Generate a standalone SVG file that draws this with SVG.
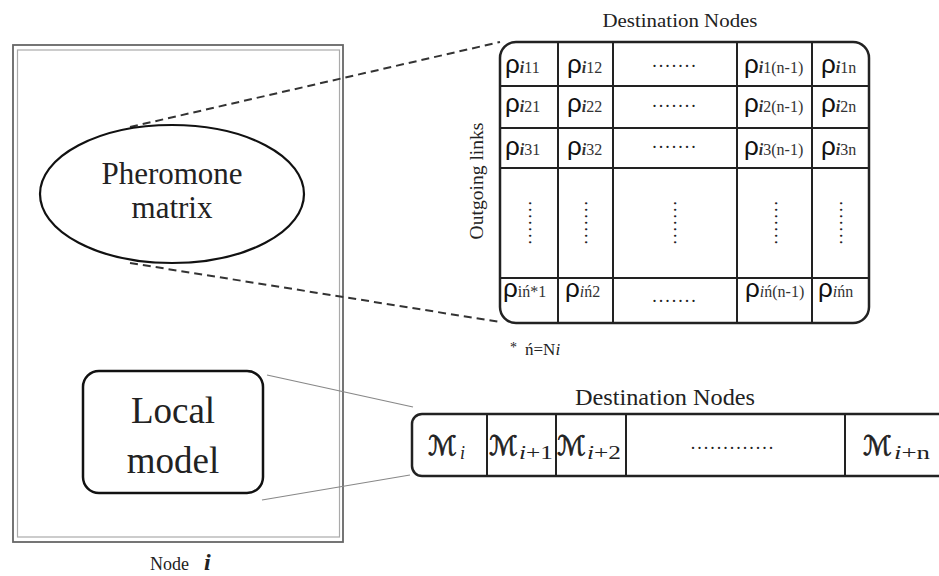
<svg xmlns="http://www.w3.org/2000/svg" width="939" height="576" viewBox="0 0 939 576">
<style>
.serif{font-family:"Liberation Serif","Times New Roman",serif;fill:#222}
.rho{font-family:"Liberation Sans",Arial,sans-serif;font-size:26px;fill:#111}
.sub{font-family:"Liberation Serif",serif;font-size:16px;fill:#333}
.si{font-style:italic;font-weight:bold}
.dots{font-family:"Liberation Serif",serif;font-size:18px;letter-spacing:2px;fill:#222}
.grid{stroke:#222;stroke-width:2;fill:none}
.cal{font-family:"DejaVu Sans",sans-serif;font-size:27px;fill:#222;stroke:#222;stroke-width:0.7}
.msub{font-family:"Liberation Serif",serif;font-size:18px;fill:#222}
</style>
<rect width="939" height="576" fill="#fff"/>

<g id="node-i">
<rect x="13" y="45" width="330" height="497" fill="none" stroke="#666" stroke-width="1.8"/>
<rect x="17.5" y="50" width="322" height="487" fill="none" stroke="#aaa" stroke-width="1.2"/>
<text class="serif" x="150" y="570" font-size="18">Node</text>
<text class="serif" x="204" y="570" font-size="24" font-style="italic" font-weight="bold">i</text>
</g>

<g id="connectors" fill="none">
<line x1="130" y1="127" x2="500" y2="42" stroke="#333" stroke-width="2" stroke-dasharray="8 5"/>
<line x1="130" y1="263" x2="500" y2="322" stroke="#333" stroke-width="2" stroke-dasharray="8 5"/>
<line x1="267" y1="375" x2="413" y2="407" stroke="#888" stroke-width="1.2"/>
<line x1="262" y1="500" x2="410" y2="475" stroke="#888" stroke-width="1.2"/>
</g>

<g id="pheromone-matrix">
<ellipse cx="172" cy="194" rx="132" ry="69" fill="#fff" stroke="#111" stroke-width="2.2"/>
<text class="serif" x="172" y="184" font-size="31" text-anchor="middle">Pheromone</text>
<text class="serif" x="172" y="218" font-size="31" text-anchor="middle">matrix</text>
</g>

<g id="local-model">
<rect x="83" y="371" width="180" height="122" rx="16" fill="#fff" stroke="#111" stroke-width="2.5"/>
<text class="serif" x="173" y="423" font-size="37" text-anchor="middle">Local</text>
<text class="serif" x="173" y="473" font-size="37" text-anchor="middle">model</text>
</g>

<g id="pheromone-table">
<text class="serif" x="680" y="27" font-size="19" text-anchor="middle" textLength="155" lengthAdjust="spacingAndGlyphs">Destination Nodes</text>
<text class="serif" x="0" y="0" font-size="18" text-anchor="middle" textLength="117" lengthAdjust="spacingAndGlyphs" transform="translate(483,181) rotate(-90)">Outgoing links</text>
<rect x="500" y="42" width="369" height="281" rx="16" fill="#fff" stroke="#222" stroke-width="2.5"/>
<path class="grid" d="M558 42V323M613 42V323M737 42V323M812 42V323M500 86H869M500 128H869M500 168H869M500 278H869"/>
<!-- row 1 -->
<text x="505" y="73"><tspan class="rho">ρ</tspan><tspan class="sub si">i</tspan><tspan class="sub">11</tspan></text>
<text x="567" y="73"><tspan class="rho">ρ</tspan><tspan class="sub si">i</tspan><tspan class="sub">12</tspan></text>
<text class="dots" x="675" y="67" text-anchor="middle">.......</text>
<text x="744" y="73"><tspan class="rho">ρ</tspan><tspan class="sub si">i</tspan><tspan class="sub">1(n-1)</tspan></text>
<text x="821" y="73"><tspan class="rho">ρ</tspan><tspan class="sub si">i</tspan><tspan class="sub">1n</tspan></text>
<!-- row 2 -->
<text x="505" y="112"><tspan class="rho">ρ</tspan><tspan class="sub si">i</tspan><tspan class="sub">21</tspan></text>
<text x="567" y="112"><tspan class="rho">ρ</tspan><tspan class="sub si">i</tspan><tspan class="sub">22</tspan></text>
<text class="dots" x="675" y="107" text-anchor="middle">.......</text>
<text x="744" y="112"><tspan class="rho">ρ</tspan><tspan class="sub si">i</tspan><tspan class="sub">2(n-1)</tspan></text>
<text x="821" y="112"><tspan class="rho">ρ</tspan><tspan class="sub si">i</tspan><tspan class="sub">2n</tspan></text>
<!-- row 3 -->
<text x="505" y="155"><tspan class="rho">ρ</tspan><tspan class="sub si">i</tspan><tspan class="sub">31</tspan></text>
<text x="567" y="155"><tspan class="rho">ρ</tspan><tspan class="sub si">i</tspan><tspan class="sub">32</tspan></text>
<text class="dots" x="675" y="148" text-anchor="middle">.......</text>
<text x="744" y="155"><tspan class="rho">ρ</tspan><tspan class="sub si">i</tspan><tspan class="sub">3(n-1)</tspan></text>
<text x="821" y="155"><tspan class="rho">ρ</tspan><tspan class="sub si">i</tspan><tspan class="sub">3n</tspan></text>
<!-- row 4 vertical dots -->
<text class="dots" transform="translate(529,201) rotate(90)" x="0" y="0">.......</text>
<text class="dots" transform="translate(585,201) rotate(90)" x="0" y="0">.......</text>
<text class="dots" transform="translate(674,201) rotate(90)" x="0" y="0">.......</text>
<text class="dots" transform="translate(775,201) rotate(90)" x="0" y="0">.......</text>
<text class="dots" transform="translate(840,201) rotate(90)" x="0" y="0">.......</text>
<!-- row 5 -->
<text x="503" y="297"><tspan class="rho">ρ</tspan><tspan class="sub">iń*1</tspan></text>
<text x="565" y="297"><tspan class="rho">ρ</tspan><tspan class="sub" font-style="italic">i</tspan><tspan class="sub">ń2</tspan></text>
<text class="dots" x="675" y="302" text-anchor="middle">.......</text>
<text x="745" y="297"><tspan class="rho">ρ</tspan><tspan class="sub" font-style="italic">i</tspan><tspan class="sub">ń(n-1)</tspan></text>
<text x="818" y="297"><tspan class="rho">ρ</tspan><tspan class="sub" font-style="italic">i</tspan><tspan class="sub">ńn</tspan></text>
</g>

<g id="footnote">
<text class="serif" x="510" y="352" font-size="14" fill="#555">*</text>
<text class="serif" x="525" y="355" font-size="17">ń=N<tspan font-style="italic">i</tspan></text>
</g>

<g id="destination-array">
<text class="serif" x="665" y="405" font-size="23" text-anchor="middle" textLength="180" lengthAdjust="spacingAndGlyphs">Destination Nodes</text>
<rect x="412" y="414" width="540" height="62" rx="10" fill="#fff" stroke="#222" stroke-width="2.5"/>
<path class="grid" d="M487 414V476M556 414V476M626 414V476M845 414V476"/>
<text class="cal" x="428" y="455">ℳ</text>
<text class="msub" x="460" y="459" font-style="italic">i</text>
<text class="cal" x="489" y="455">ℳ</text>
<text class="msub" x="519" y="459" textLength="34" lengthAdjust="spacingAndGlyphs"><tspan font-style="italic">i</tspan>+1</text>
<text class="cal" x="557" y="455">ℳ</text>
<text class="msub" x="587" y="459" textLength="34" lengthAdjust="spacingAndGlyphs"><tspan font-style="italic">i</tspan>+2</text>
<text class="dots" x="733" y="449" text-anchor="middle" font-size="20" letter-spacing="2.6">.............</text>
<text class="cal" x="863" y="455">ℳ</text>
<text class="msub" x="894" y="459" textLength="36" lengthAdjust="spacingAndGlyphs"><tspan font-style="italic">i</tspan>+n</text>
</g>
</svg>
